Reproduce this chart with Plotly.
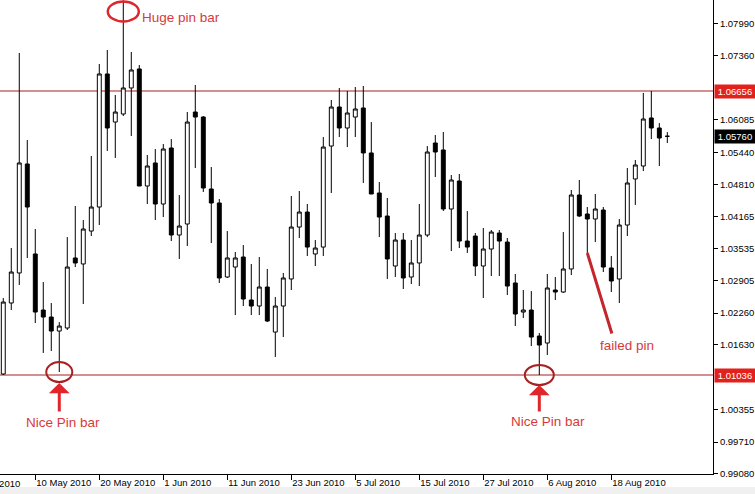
import plotly.graph_objects as go

# EUR/CHF-style daily candles, 4 May 2010 - 27 Aug 2010 (trading days only)
open_ = [1.01056, 1.02461, 1.03055, 1.05212, 1.03431, 1.02322, 1.02183, 1.01906, 1.01966, 1.03352,
         1.03233, 1.03885, 1.04360, 1.06993, 1.06042, 1.06201, 1.06716, 1.07092, 1.04776, 1.05232,
         1.04420, 1.05528, 1.03806, 1.04024, 1.06240, 1.06141, 1.04717, 1.04440, 1.02975, 1.03173,
         1.03371, 1.02520, 1.02401, 1.02777, 1.01886, 1.02401, 1.02936, 1.03964, 1.04261, 1.03431,
         1.03568, 1.05567, 1.06339, 1.05924, 1.06141, 1.06320, 1.05430, 1.04638, 1.04182, 1.03193,
         1.03707, 1.02975, 1.03253, 1.03806, 1.05627, 1.05489, 1.04321, 1.04875, 1.03687, 1.03786,
         1.03193, 1.03529, 1.03846, 1.03667, 1.02857, 1.02282, 1.02322, 1.01807, 1.01669, 1.02718,
         1.02678, 1.03134, 1.04598, 1.04222, 1.04123, 1.04301, 1.03154, 1.02936, 1.04004, 1.04915,
         1.05172, 1.06122, 1.05924, 1.05760]
high = [1.02560, 1.03549, 1.07409, 1.05686, 1.03925, 1.02876, 1.02461, 1.02084, 1.03766, 1.04380,
        1.04103, 1.05370, 1.07191, 1.07468, 1.06577, 1.08450, 1.07428, 1.07171, 1.05390, 1.05508,
        1.05607, 1.05706, 1.04598, 1.06240, 1.06775, 1.06161, 1.05152, 1.04519, 1.03885, 1.03470,
        1.03608, 1.03233, 1.03371, 1.03134, 1.02579, 1.03055, 1.04578, 1.04677, 1.04420, 1.03707,
        1.05745, 1.06478, 1.06716, 1.06656, 1.06735, 1.06755, 1.06042, 1.04855, 1.04539, 1.03846,
        1.03846, 1.03707, 1.04420, 1.05567, 1.05785, 1.05844, 1.04994, 1.05014, 1.04281, 1.03846,
        1.03945, 1.03905, 1.03905, 1.03747, 1.03035, 1.02718, 1.02698, 1.01867, 1.03035, 1.02975,
        1.03865, 1.04697, 1.04895, 1.04360, 1.04618, 1.04360, 1.03391, 1.04123, 1.05133, 1.05291,
        1.06617, 1.06656, 1.06022, 1.05844]
low = [1.01036, 1.02322, 1.02817, 1.03352, 1.02065, 1.01472, 1.01511, 1.01095, 1.01926, 1.03173,
       1.02441, 1.03786, 1.04004, 1.05469, 1.05331, 1.06161, 1.05765, 1.04776, 1.04420, 1.04103,
       1.04162, 1.03687, 1.03332, 1.03588, 1.05133, 1.04657, 1.03648, 1.02857, 1.02956, 1.02223,
       1.02401, 1.02223, 1.02223, 1.02084, 1.01392, 1.01787, 1.02718, 1.03747, 1.03391, 1.03193,
       1.03391, 1.04638, 1.05745, 1.05547, 1.05745, 1.04836, 1.04618, 1.03766, 1.02936, 1.02975,
       1.02738, 1.02837, 1.02797, 1.03766, 1.04954, 1.04281, 1.03490, 1.03549, 1.03451, 1.02995,
       1.02560, 1.02995, 1.02995, 1.02619, 1.02005, 1.02164, 1.01609, 1.01036, 1.01432, 1.02520,
       1.02659, 1.03015, 1.04162, 1.03451, 1.03667, 1.03074, 1.02678, 1.02461, 1.03786, 1.04400,
       1.05073, 1.05706, 1.05172, 1.05627]
close = [1.02480, 1.03074, 1.05232, 1.04360, 1.02282, 1.02183, 1.01906, 1.02005, 1.03173, 1.03253,
         1.03925, 1.04360, 1.06993, 1.05924, 1.06240, 1.06716, 1.07072, 1.04776, 1.05172, 1.04420,
         1.05508, 1.03806, 1.03984, 1.06042, 1.06141, 1.04737, 1.04440, 1.02956, 1.03352, 1.03352,
         1.02540, 1.02401, 1.02777, 1.02104, 1.02401, 1.02956, 1.03964, 1.04261, 1.03568, 1.03549,
         1.05547, 1.06339, 1.05924, 1.06221, 1.06300, 1.05430, 1.04618, 1.04162, 1.03332, 1.03707,
         1.02956, 1.03253, 1.03806, 1.05449, 1.05449, 1.04321, 1.04895, 1.03687, 1.03568, 1.03193,
         1.03529, 1.03865, 1.03687, 1.02797, 1.02243, 1.02322, 1.01787, 1.01629, 1.02758, 1.02678,
         1.03134, 1.04598, 1.04182, 1.04123, 1.04321, 1.03173, 1.02896, 1.04004, 1.04836, 1.05192,
         1.06102, 1.05924, 1.05726, 1.05760]

bar_index = list(range(len(close)))

# date labels every 8 bars; the first one sits before the first visible bar
x_tick_index = [-4, 4, 12, 20, 28, 36, 44, 52, 60, 68, 76]
x_tick_labels = ["28 Apr 2010", "10 May 2010", "20 May 2010", "1 Jun 2010", "11 Jun 2010",
                 "23 Jun 2010", "5 Jul 2010", "15 Jul 2010", "27 Jul 2010", "6 Aug 2010",
                 "18 Aug 2010"]

y_ticks = [1.07990, 1.07360, 1.06085, 1.05440, 1.04810, 1.04165, 1.03535,
           1.02905, 1.02260, 1.01630, 1.00355, 0.99710, 0.99080]

resistance = 1.06656
support = 1.01036
last_price = 1.05760

# bars highlighted in the notes
huge_pin = 15
nice_pins = [7, 67]
failed_pin = 73

X_RANGE = [-0.41, 88.71]
Y_RANGE = [0.99077, 1.08457]

TXT_RED = "#d83a3a"
MARK_RED = "#e0262b"
LINE_RED = "#a82020"
AXIS_FONT = dict(family="Liberation Sans, Arial, sans-serif", size=9.5, color="#000000")
NOTE_FONT = dict(family="Liberation Sans, Arial, sans-serif", size=13.5, color=TXT_RED)

fig = go.Figure(
    go.Candlestick(
        x=bar_index, open=open_, high=high, low=low, close=close,
        increasing=dict(line=dict(color="black", width=1), fillcolor="white"),
        decreasing=dict(line=dict(color="black", width=1), fillcolor="black"),
        whiskerwidth=0, hoverinfo="skip",
    )
)

in_range = [(i, t) for i, t in zip(x_tick_index, x_tick_labels) if X_RANGE[0] <= i <= X_RANGE[1]]
cut_off = [(i, t) for i, t in zip(x_tick_index, x_tick_labels) if i < X_RANGE[0]]

fig.update_layout(
    width=755, height=494,
    margin=dict(l=0, r=42, t=0, b=20),
    paper_bgcolor="white", plot_bgcolor="white",
    showlegend=False,
    xaxis=dict(
        range=X_RANGE, rangeslider=dict(visible=False),
        tickmode="array", tickvals=[i for i, _ in in_range], ticktext=[t for _, t in in_range],
        ticks="outside", ticklen=5, tickcolor="black", tickwidth=1,
        ticklabelposition="outside right", tickfont=AXIS_FONT,
        showline=True, linecolor="black", linewidth=1,
        showgrid=False, zeroline=False, automargin=False,
    ),
    yaxis=dict(
        range=Y_RANGE, side="right",
        tickmode="array", tickvals=y_ticks, ticktext=[f"{v:.5f}" for v in y_ticks],
        ticks="outside", ticklen=4, tickcolor="black", tickwidth=1,
        tickfont=AXIS_FONT,
        showline=True, linecolor="black", linewidth=1,
        showgrid=False, zeroline=False, automargin=False,
    ),
)

# support / resistance lines
for level in (resistance, support):
    fig.add_shape(type="line", xref="paper", x0=0, x1=1, yref="y", y0=level, y1=level,
                  line=dict(color=LINE_RED, width=1), layer="below")

# light strip along the bottom edge of the window
fig.add_shape(type="rect", xref="paper", yref="paper", x0=0, x1=755 / 713,
              y0=-20 / 474, y1=-13 / 474, fillcolor="#f0f0f0", line=dict(width=0), layer="below")

# price tags on the scale
for level, bg in ((resistance, "#e3211c"), (last_price, "#000000"), (support, "#e3211c")):
    fig.add_annotation(x=1, xref="paper", y=level, yref="y", xanchor="left", xshift=1,
                       text=f"{level:.5f}", showarrow=False, bgcolor=bg, borderpad=1,
                       width=38, font=dict(family=AXIS_FONT["family"], size=9.5, color="white"))

# date label whose bar lies left of the visible window (placed in paper units so it is not hidden)
span = X_RANGE[1] - X_RANGE[0]
for i, t in cut_off:
    fig.add_annotation(x=(i - X_RANGE[0]) / span, xref="paper", y=-9 / 474, yref="paper",
                       xanchor="left", yanchor="middle", xshift=-4, text=t, showarrow=False,
                       font=AXIS_FONT)

# huge pin bar
fig.add_shape(type="circle", xref="x", xsizemode="pixel", xanchor=huge_pin, x0=-15.5, x1=15.5,
              yref="paper", y0=1 - 21.5 / 474, y1=1 - 1.5 / 474,
              line=dict(color=MARK_RED, width=2.5))
fig.add_annotation(x=huge_pin, xref="x", y=1 - 18 / 474, yref="paper", xanchor="left",
                   yanchor="middle", xshift=17, text="Huge pin bar", showarrow=False, font=NOTE_FONT)

# nice pin bars at support
for b, tip_gap, tail, tx, ty, half_w in [(nice_pins[0], 11, 41, 4, -50, 13),
                                         (nice_pins[1], 10, 38, 9, -46, 14.5)]:
    fig.add_shape(type="circle", xref="x", xsizemode="pixel", xanchor=b, x0=-half_w, x1=half_w,
                  yref="y", ysizemode="pixel", yanchor=low[b], y0=-10, y1=10,
                  line=dict(color=LINE_RED, width=2))
    fig.add_annotation(x=b, y=low[b], xref="x", yref="y", text="", showarrow=True,
                       arrowhead=1, arrowsize=1.15, arrowwidth=3, arrowcolor=MARK_RED,
                       ax=0, ay=tail, standoff=tip_gap)
    fig.add_annotation(x=b, y=low[b], xref="x", yref="y", text="Nice Pin bar", showarrow=False,
                       xshift=tx, yshift=ty, font=NOTE_FONT)

# failed pin
fig.add_annotation(x=failed_pin, y=low[failed_pin], xref="x", yref="y", text="", showarrow=True,
                   arrowhead=0, arrowwidth=3, arrowcolor="#c4262c", ax=25, ay=82, standoff=0)
fig.add_annotation(x=failed_pin, y=low[failed_pin], xref="x", yref="y", text="failed pin",
                   showarrow=False, xshift=40, yshift=-93, font=NOTE_FONT)

fig.write_html("out.html")
